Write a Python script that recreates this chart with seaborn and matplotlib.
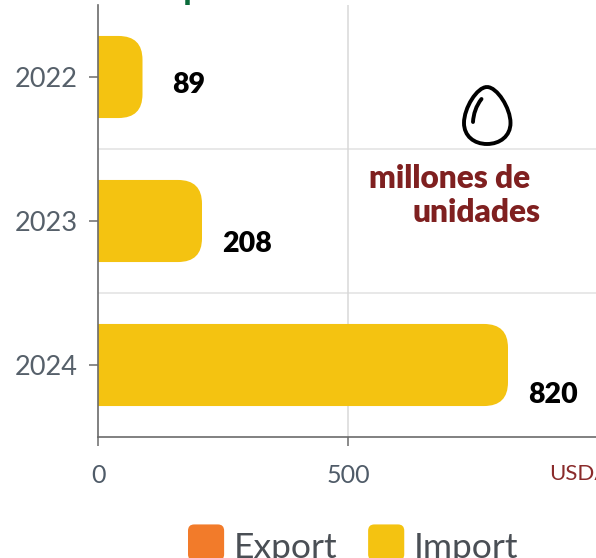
import matplotlib
matplotlib.use("Agg")
import matplotlib.pyplot as plt
import seaborn as sns
import pandas as pd
from matplotlib.path import Path
from matplotlib.patches import PathPatch, Patch, FancyBboxPatch
from matplotlib.legend_handler import HandlerPatch
from matplotlib.transforms import Affine2D

years = ["2022", "2023", "2024"]
imports = [89, 208, 820]
label_dx = [60, 40, 41]
label_dy = [0.055, 0.16, 0.21]
legend_names = ["Export", "Import"]
legend_colors = ["#F27B2A", "#F4C311"]

W, H = 596, 558
sns.set_theme(style="white")
plt.rcParams["font.family"] = ["Lato", "DejaVu Sans"]
fig = plt.figure(figsize=(W / 100, H / 100), dpi=100, facecolor="white")
ax = fig.add_axes([98 / W, (H - 437) / H, (W - 98) / W, 432 / H])

df = pd.DataFrame({"year": years, "value": imports})
sns.barplot(data=df, x="value", y="year", orient="h", color=legend_colors[1],
            saturation=1, width=0.57, ax=ax, zorder=2)
ax.set_xlim(0, 996)
ax.set_ylim(2.5, -0.5)
ax.set_xlabel("")
ax.set_ylabel("")
ax.set_xticks([0, 500])

# rounded right corners for each bar
rx, ry = 48, 0.165
for bar in list(ax.patches):
    x0, w = bar.get_x(), bar.get_width()
    y0, h = bar.get_y(), bar.get_height()
    x1, y1 = x0 + w, y0 + h
    verts = [(x0, y0), (x1 - rx, y0), (x1, y0), (x1, y0 + ry), (x1, y1 - ry),
             (x1, y1), (x1 - rx, y1), (x0, y1), (x0, y0)]
    codes = [Path.MOVETO, Path.LINETO, Path.CURVE3, Path.CURVE3, Path.LINETO,
             Path.CURVE3, Path.CURVE3, Path.LINETO, Path.CLOSEPOLY]
    ax.add_patch(PathPatch(Path(verts, codes), fc=legend_colors[1], ec="none", zorder=2))
    bar.set_visible(False)

# grid
for yb in [0.5, 1.5]:
    ax.axhline(yb, color="#E2E2E2", lw=1.1, zorder=0)
ax.axvline(500, color="#D8D8D8", lw=1.1, zorder=0)

for s in ["top", "right"]:
    ax.spines[s].set_visible(False)
for s in ["left", "bottom"]:
    ax.spines[s].set_color("#6B6B6B")
    ax.spines[s].set_linewidth(1.2)
    ax.spines[s].set_zorder(3)

ax.tick_params(axis="y", length=6.5, width=1.1, color="#6B6B6B", pad=8,
               labelsize=19.5, labelcolor="#56606A", left=True)
ax.tick_params(axis="x", length=6.5, width=1.1, color="#6B6B6B", pad=13,
               labelsize=18, labelcolor="#4F5B68", bottom=True)

# value labels
for i, v in enumerate(imports):
    ax.text(v + label_dx[i], i + label_dy[i], str(v), fontfamily="Lato",
            fontweight="heavy", fontsize=20.5, color="black", va="center", ha="left", zorder=4)

# annotations (pixel space)
px = Affine2D().scale(1, -1).translate(0, H)
fig.text(369, 179, "millones de", transform=px, fontfamily="Lato", fontweight="heavy",
         fontsize=22.8, color="#7F2020", va="center", ha="left")
fig.text(413, 212, "unidades", transform=px, fontfamily="Lato", fontweight="heavy",
         fontsize=22.8, color="#7F2020", va="center", ha="left")
fig.text(549, 474, "USDA", transform=px, fontfamily="Lato", fontsize=16,
         color="#8A2B2B", va="center", ha="left")
fig.text(183, -1, "p", transform=px, fontfamily="Lato", fontweight="bold", fontsize=26,
         color="#0B6B3A", va="baseline", ha="left")

# egg icon
egg = Path([(487, 87), (497, 87), (510.5, 108), (510.5, 123), (510.5, 136), (500, 144), (487, 144),
            (474, 144), (464, 136), (464, 123), (464, 108), (477, 87), (487, 87)],
           [Path.MOVETO] + [Path.CURVE4] * 12)
fig.add_artist(PathPatch(egg, transform=px, fc="none", ec="black", lw=2.8))
shine = Path([(481.5, 99), (476, 106), (473.5, 114), (473, 122)],
             [Path.MOVETO, Path.CURVE4, Path.CURVE4, Path.CURVE4])
fig.add_artist(PathPatch(shine, transform=px, fc="none", ec="black", lw=2.8, capstyle="round"))


# legend
class RoundSwatch(HandlerPatch):
    def create_artists(self, legend, orig, xd, yd, width, height, fontsize, trans):
        p = FancyBboxPatch((0, -2.2), width, width, boxstyle="round,pad=0,rounding_size=4.5",
                           fc=orig.get_facecolor(), ec="none", transform=trans)
        return [p]


handles = [Patch(fc=c, label=n) for n, c in zip(legend_names, legend_colors)]
leg = fig.legend(handles=handles, ncol=2, frameon=False, loc="upper left",
                 bbox_to_anchor=(188 / W, 1 - 531.5 / H), bbox_transform=fig.transFigure,
                 fontsize=25.5, handlelength=1.02, handleheight=0.72, handletextpad=0.28,
                 columnspacing=0.86, borderpad=0, borderaxespad=0,
                 handler_map={Patch: RoundSwatch()})
for t in leg.get_texts():
    t.set_color("#4A4F55")

fig.savefig("out.png", dpi=100)
